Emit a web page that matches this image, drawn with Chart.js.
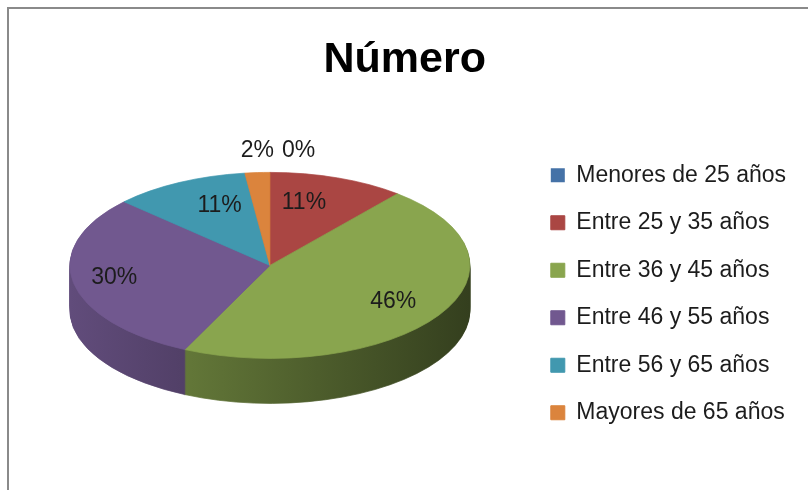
<!DOCTYPE html>
<html><head><meta charset="utf-8">
<script src="https://cdn.jsdelivr.net/npm/chart.js@4.4.1/dist/chart.umd.min.js"></script>
<style>
html,body{margin:0;padding:0;background:#fff;}
#wrap{position:relative;width:808px;height:490px;overflow:hidden;background:#fff;}
#frame{position:absolute;left:7px;top:7px;width:900px;height:600px;border-left:2px solid #8a8a8a;border-top:2px solid #8a8a8a;}
canvas{position:absolute;left:0;top:0;}
</style></head><body>
<div id="wrap"><div id="frame"></div><canvas id="c" width="808" height="490"></canvas></div>
<script>
const chartTitle = 'Número';
const categories = ['Menores de 25 años', 'Entre 25 y 35 años', 'Entre 36 y 45 años', 'Entre 46 y 55 años', 'Entre 56 y 65 años', 'Mayores de 65 años'];
const values = [0, 11, 46, 30, 11, 2];
const colors = ['#4572A7', '#AA4643', '#89A54E', '#71588F', '#4198AF', '#DB843D'];

const FONT = '"Liberation Sans", Arial, sans-serif';
const TILT = 0.465;   // vertical squash of the pie (3D look)
const DEPTH = 45;     // thickness of the pie in px

function shade(hex, f) {
  const n = parseInt(hex.slice(1), 16);
  const r = Math.round(((n >> 16) & 255) * f), g = Math.round(((n >> 8) & 255) * f), b = Math.round((n & 255) * f);
  return `rgb(${r},${g},${b})`;
}

const pie3d = {
  id: 'pie3d',
  beforeDatasetsDraw(chart) {
    const ctx = chart.ctx;
    const arcs = chart.getDatasetMeta(0).data;
    if (!arcs.length) return;
    const cx = arcs[0].x, cy = arcs[0].y, r = arcs[0].outerRadius;
    const grads = colors.map(c => {
      const g = ctx.createLinearGradient(cx - r, 0, cx + r, 0);
      g.addColorStop(0, shade(c, 0.86));
      g.addColorStop(1, shade(c, 0.38));
      return g;
    });
    for (let d = DEPTH; d >= 1; d--) {
      ctx.save();
      ctx.translate(0, d);
      ctx.translate(cx, cy); ctx.scale(1, TILT); ctx.translate(-cx, -cy);
      arcs.forEach((arc, i) => {
        if (!values[i]) return;
        const saved = arc.options;
        arc.options = Object.assign({}, saved, {backgroundColor: grads[i], borderColor: grads[i], borderWidth: 1});
        arc.draw(ctx);
        arc.options = saved;
      });
      ctx.restore();
    }
    ctx.save();
    ctx.translate(cx, cy); ctx.scale(1, TILT); ctx.translate(-cx, -cy);
  },
  afterDatasetsDraw(chart) {
    const ctx = chart.ctx;
    ctx.restore();
    const arcs = chart.getDatasetMeta(0).data;
    if (!arcs.length) return;
    const total = values.reduce((a, b) => a + b, 0);
    ctx.save();
    ctx.font = '23px ' + FONT;
    ctx.fillStyle = '#1c1c1c';
    ctx.textBaseline = 'middle';
    const outside = [];
    arcs.forEach((arc, i) => {
      const mid = (arc.startAngle + arc.endAngle) / 2;
      const pct = Math.round(values[i] / total * 100) + '%';
      const share = values[i] / total;
      const cx = arc.x, cy = arc.y, r = arc.outerRadius;
      if (share >= 0.05) {
        const c = Math.cos(mid), s = Math.sin(mid);
        const fx = 0.35 + 0.45 * Math.abs(c);
        const fy = 0.72;
        ctx.textAlign = 'center';
        ctx.fillText(pct, cx + c * r * fx, cy + s * r * fy * TILT);
      } else {
        outside.push({pct, x: cx + Math.cos(mid) * r, y: cy + Math.sin(mid) * r * TILT - 22});
      }
    });
    outside.sort((a, b) => a.x - b.x);
    let lastRight = -Infinity;
    ctx.textAlign = 'left';
    outside.forEach(o => {
      const w = ctx.measureText(o.pct).width;
      let left = o.x - w / 2;
      if (left < lastRight + 8) left = lastRight + 8;
      ctx.fillText(o.pct, left, o.y);
      lastRight = left + w;
    });
    ctx.restore();
  }
};

new Chart(document.getElementById('c'), {
  type: 'pie',
  data: {
    labels: categories,
    datasets: [{
      data: values,
      backgroundColor: colors,
      borderColor: colors,
      borderWidth: (c) => (values[c.dataIndex] ? 1 : 0),
      radius: 200,
      clip: false
    }]
  },
  options: {
    responsive: false,
    animation: false,
    devicePixelRatio: 1,
    events: [],
    layout: {padding: {left: 13.5, right: 12, top: 0, bottom: 36.8}},
    plugins: {
      tooltip: {enabled: false},
      title: {
        display: true,
        text: chartTitle,
        color: '#000',
        font: {family: FONT, size: 43, weight: 'bold', lineHeight: 0.8},
        padding: {top: 43.2, bottom: 0}
      },
      legend: {
        position: 'right',
        align: 'center',
        fullSize: true,
        title: {display: true, text: ' ', font: {size: 10, lineHeight: 1}, padding: {top: 124.8, bottom: 0}},
        labels: {
          color: '#1c1c1c',
          font: {family: FONT, size: 23},
          boxWidth: 14,
          boxHeight: 14,
          padding: 24.5
        }
      }
    }
  },
  plugins: [pie3d]
});
</script>
</body></html>
